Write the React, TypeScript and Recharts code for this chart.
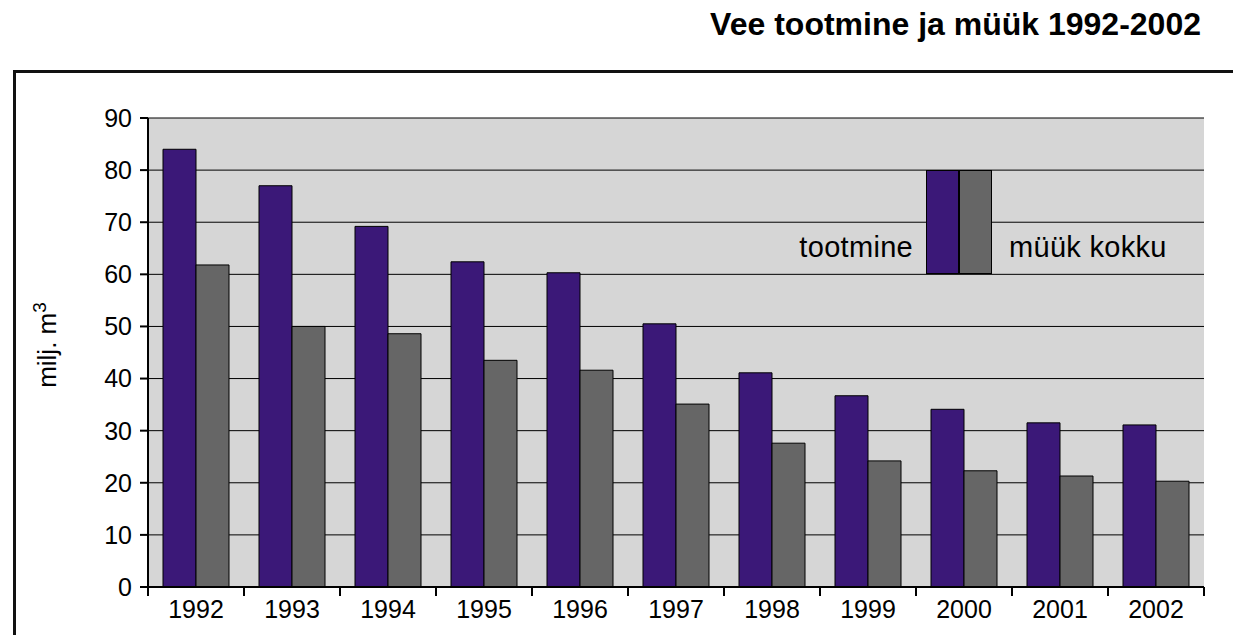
import { BarChart, Bar, XAxis, YAxis, CartesianGrid } from 'recharts'

const YEARS = ['1992', '1993', '1994', '1995', '1996', '1997', '1998', '1999', '2000', '2001', '2002']
const TOOTMINE = [84, 77, 69.2, 62.4, 60.3, 50.5, 41.1, 36.7, 34.1, 31.5, 31.1]
const MUUK = [61.8, 50, 48.6, 43.5, 41.6, 35.1, 27.6, 24.2, 22.3, 21.3, 20.3]
const Y_TICKS = [0, 10, 20, 30, 40, 50, 60, 70, 80, 90]

const PURPLE = '#3b1878'
const GRAY = '#666666'
const FONT = '"Liberation Sans", Arial, Helvetica, sans-serif'

const data = YEARS.map((year, i) => ({ year, tootmine: TOOTMINE[i], muuk: MUUK[i] }))

// category tick: label in the middle, tick marks on the band edges
function YearTick(props: any) {
  const { x, y, payload, index } = props
  const half = payload.offset ?? 48
  return (
    <g>
      <line x1={x - half} x2={x - half} y1={y} y2={y + 9} stroke="#000" strokeWidth={2} />
      {index === YEARS.length - 1 && (
        <line x1={x + half} x2={x + half} y1={y} y2={y + 9} stroke="#000" strokeWidth={2} />
      )}
      <text x={x} y={y + 31} textAnchor="middle" fontSize={25} fill="#000" fontFamily={FONT}>
        {payload.value}
      </text>
    </g>
  )
}

export default function App() {
  return (
    <div style={{ position: 'absolute', left: 0, top: 0, width: 1233, height: 635, background: '#fff', overflow: 'hidden', fontFamily: FONT }}>
      <div style={{ position: 'absolute', right: 32, top: 6, fontSize: 32, fontWeight: 700, color: '#000' }}>
        Vee tootmine ja müük 1992-2002
      </div>
      <div style={{ position: 'absolute', left: 13, top: 70, width: 1260, height: 600, border: '3px solid #111', boxSizing: 'border-box' }} />
      <div style={{ position: 'absolute', left: 46, top: 345, transform: 'translate(-50%, -50%) rotate(-90deg)', fontSize: 26, whiteSpace: 'nowrap' }}>
        milj. m<sup style={{ fontSize: 19 }}>3</sup>
      </div>
      <div style={{ position: 'absolute', left: 0, top: 0 }}>
        <BarChart
          width={1233}
          height={635}
          data={data}
          margin={{ top: 118, right: 29, bottom: 0, left: 0 }}
          barCategoryGap={15}
          barGap={0}
        >
          <CartesianGrid vertical={false} stroke="#000" strokeWidth={1} fill="#d6d6d6" fillOpacity={1} />
          <XAxis
            dataKey="year"
            height={48}
            axisLine={{ stroke: '#000', strokeWidth: 2 }}
            tickLine={false}
            tickSize={0}
            tickMargin={0}
            interval={0}
            tick={<YearTick />}
          />
          <XAxis xAxisId="top" orientation="top" height={0} tick={false} tickLine={false} axisLine={{ stroke: '#000', strokeWidth: 2 }} />
          <YAxis
            width={148}
            domain={[0, 90]}
            ticks={Y_TICKS}
            interval={0}
            axisLine={{ stroke: '#000', strokeWidth: 2 }}
            tickLine={{ stroke: '#000', strokeWidth: 2 }}
            tickSize={8}
            tickMargin={8}
            tick={{ fontSize: 25, fill: '#000', fontFamily: FONT }}
          />
          <YAxis yAxisId="right" orientation="right" width={0} domain={[0, 90]} tick={false} tickLine={false} axisLine={{ stroke: '#000', strokeWidth: 3 }} />
          <Bar dataKey="tootmine" fill={PURPLE} stroke="#000" strokeWidth={1} isAnimationActive={false} />
          <Bar dataKey="muuk" fill={GRAY} stroke="#000" strokeWidth={1} isAnimationActive={false} />
        </BarChart>
      </div>
      {/* legend */}
      <div style={{ position: 'absolute', left: 926, top: 170, width: 33, height: 104, background: PURPLE, border: '1px solid #000', boxSizing: 'border-box' }} />
      <div style={{ position: 'absolute', left: 959, top: 170, width: 33, height: 104, background: GRAY, border: '1px solid #000', boxSizing: 'border-box' }} />
      <div style={{ position: 'absolute', right: 1233 - 913, top: 230, fontSize: 29, lineHeight: '34px', letterSpacing: 0.3, color: '#000' }}>tootmine</div>
      <div style={{ position: 'absolute', left: 1009, top: 230, fontSize: 29, lineHeight: '34px', letterSpacing: 0.3, color: '#000' }}>müük kokku</div>
    </div>
  )
}
